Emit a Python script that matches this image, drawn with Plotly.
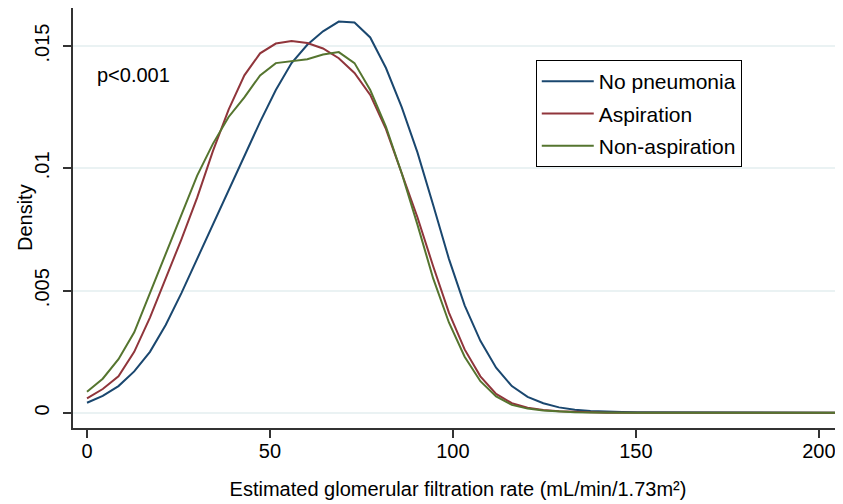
import plotly.graph_objects as go

# kernel density points (eGFR, density)
gfr = [0.0, 4.3, 8.6, 12.9, 17.2, 21.5, 25.8, 30.1, 34.4, 38.7,
       43.0, 47.3, 51.6, 55.9, 60.2, 64.5, 68.8, 73.1, 77.4, 81.7,
       86.0, 90.3, 94.6, 98.9, 103.2, 107.5, 111.8, 116.1, 120.4, 124.7,
       129.0, 133.3, 137.6, 141.9, 146.2, 150.5, 154.8, 159.1, 163.4, 167.7,
       172.0, 176.3, 180.6, 184.9, 189.2, 193.5, 197.8, 202.1, 206.4, 210.7]

no_pneumonia = [0.00042, 0.00070, 0.00110, 0.00170, 0.00250, 0.00360, 0.00490, 0.00630, 0.00770, 0.00910,
                0.01050, 0.01190, 0.01320, 0.01430, 0.01505, 0.01560, 0.01600, 0.01596, 0.01535, 0.01410,
                0.01250, 0.01065, 0.00850, 0.00630, 0.00440, 0.00295, 0.00185, 0.00110, 0.00066, 0.00040,
                0.00023, 0.00013, 0.00008, 0.00005, 0.00004, 0.00003, 0.00003, 0.00002, 0.00002, 0.00002,
                0.00002, 0.00001, 0.00001, 0.00001, 0.00001, 0.00001, 0.00001, 0.00001, 0.00001, 0.00001]

aspiration = [0.00060, 0.00098, 0.00150, 0.00250, 0.00390, 0.00550, 0.00710, 0.00880, 0.01070, 0.01240,
              0.01380, 0.01470, 0.01510, 0.01520, 0.01512, 0.01490, 0.01450, 0.01390, 0.01300, 0.01160,
              0.00980, 0.00800, 0.00600, 0.00410, 0.00260, 0.00150, 0.00078, 0.00040, 0.00022, 0.00012,
              0.00007, 0.00004, 0.00002, 0.00001, 0.00001, 0.00001, 0.00001, 0.00001, 0.00001, 0.00001,
              0.00001, 0.00001, 0.00001, 0.00001, 0.00001, 0.00001, 0.00001, 0.00001, 0.00001, 0.00001]

non_aspiration = [0.00087, 0.00140, 0.00220, 0.00330, 0.00490, 0.00650, 0.00810, 0.00970, 0.01100, 0.01210,
                  0.01290, 0.01380, 0.01430, 0.01437, 0.01446, 0.01465, 0.01475, 0.01430, 0.01320, 0.01170,
                  0.00980, 0.00770, 0.00550, 0.00370, 0.00230, 0.00130, 0.00068, 0.00033, 0.00018, 0.00010,
                  0.00006, 0.00003, 0.00002, 0.00001, 0.00001, 0.00001, 0.00001, 0.00001, 0.00001, 0.00001,
                  0.00001, 0.00001, 0.00001, 0.00001, 0.00001, 0.00001, 0.00001, 0.00001, 0.00001, 0.00001]

group_names = ["No pneumonia", "Aspiration", "Non-aspiration"]
group_colors = ["#1a476f", "#90353b", "#55752f"]

x_ticks = [0, 50, 100, 150, 200]
y_ticks = [0, 0.005, 0.01, 0.015]
y_tick_labels = ["0", ".005", ".01", ".015"]

FONT = "Liberation Sans, Arial, sans-serif"

fig = go.Figure()
for i, series in enumerate([no_pneumonia, aspiration, non_aspiration]):
    fig.add_trace(go.Scatter(
        x=gfr,
        y=series,
        mode="lines",
        name=group_names[i],
        legendgroup=group_names[i],
        line=dict(color=group_colors[i], width=2),
    ))

fig.add_annotation(
    x=2.2, y=0.0138, xref="x", yref="y",
    text="p<0.001", showarrow=False,
    xanchor="left", yanchor="middle",
    font=dict(size=20, color="#000000", family=FONT),
)

# y title as an annotation so it can sit closer to the tick labels
fig.add_annotation(
    x=-0.0623, y=0.5, xref="paper", yref="paper",
    text="Density", showarrow=False, textangle=-90,
    xanchor="center", yanchor="middle",
    font=dict(size=20, color="#000000", family=FONT),
)

# the page body has an 8px margin, so the figure is a bit smaller than the window
fig.update_layout(
    width=835,
    height=496,
    margin=dict(l=65, r=0, t=0, b=76),
    paper_bgcolor="white",
    plot_bgcolor="white",
    font=dict(family=FONT, size=20, color="#000000"),
    showlegend=True,
    legend=dict(
        x=0.601, y=0.876, xanchor="left", yanchor="top",
        bordercolor="#000000", borderwidth=1,
        bgcolor="white",
        font=dict(size=21, family=FONT),
        tracegroupgap=2,
        itemwidth=52,
    ),
    xaxis=dict(
        range=[-3.83, 206.6],
        tickvals=x_ticks,
        ticks="outside", ticklen=8, tickwidth=1.5, tickcolor="#333333",
        ticklabelstandoff=-4,
        showline=True, linecolor="#333333", linewidth=1.5,
        showgrid=False, zeroline=False, automargin=False,
        title=dict(text="Estimated glomerular filtration rate (mL/min/1.73m²)",
                   font=dict(size=20), standoff=21),
    ),
    yaxis=dict(
        range=[-0.000613, 0.016553],
        tickvals=y_ticks,
        ticktext=y_tick_labels,
        tickangle=-90,
        ticks="outside", ticklen=8, tickwidth=1.5, tickcolor="#333333",
        ticklabelstandoff=6,
        showline=True, linecolor="#333333", linewidth=1.5,
        showgrid=True, gridcolor="#eaf2f3", gridwidth=1.5,
        zeroline=False, automargin=False,
    ),
)

fig.write_html("out.html")
